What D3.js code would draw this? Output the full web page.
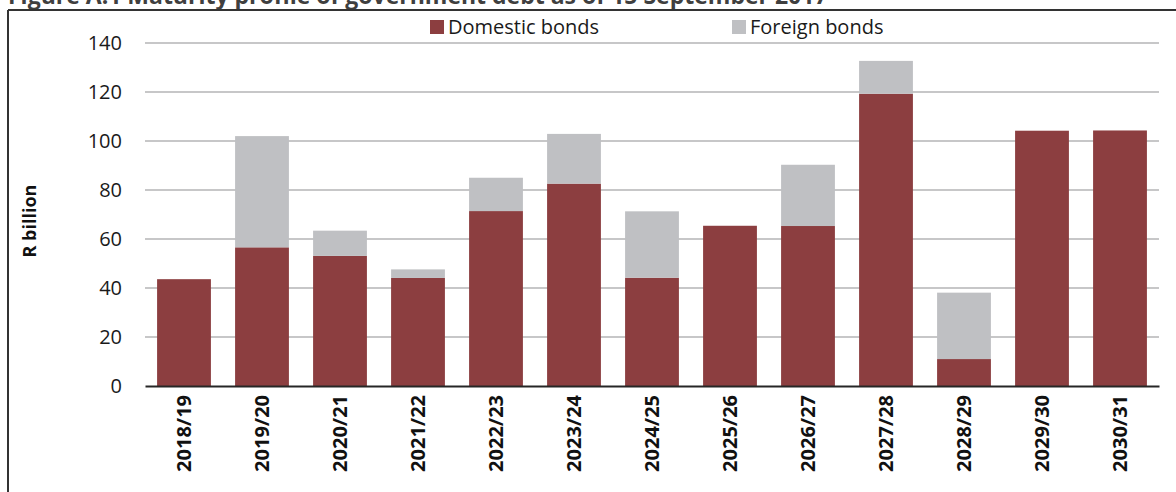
<!DOCTYPE html>
<html>
<head>
<meta charset="utf-8">
<script src="https://cdn.jsdelivr.net/npm/d3@7"></script>
<style>
  body { margin: 0; background: #fff; }
  text { font-family: "Open Sans", sans-serif; }
</style>
</head>
<body>
<svg id="chart"></svg>
<script>
// values, R billion
var years = ["2018/19","2019/20","2020/21","2021/22","2022/23","2023/24","2024/25",
  "2025/26","2026/27","2027/28","2028/29","2029/30","2030/31"]
var domestic = [43.6, 56.6, 53.1, 44.1, 71.4, 82.6, 44.2, 65.4, 65.3, 119.3, 11.0, 104.2, 104.3]
var foreign = [0, 45.4, 10.3, 3.5, 13.6, 20.3, 27.1, 0, 25.0, 13.4, 27.1, 0, 0]
var yTicks = [0, 20, 40, 60, 80, 100, 120, 140]
var seriesNames = ["Domestic bonds", "Foreign bonds"]

var width = 1176, height = 492
var margins = {left: 145, right: 17, top: 43, bottom: 106}
var colors = {"Domestic bonds": "#8c3e40", "Foreign bonds": "#bfc0c3"}

var svg = d3.select("#chart").attr("width", width).attr("height", height)

// title, mostly cut off by the top edge (as in the source)
svg.append("text")
  .attr("x", 8).attr("y", 4)
  .attr("font-size", 23).attr("font-weight", 700)
  .attr("fill", "#3f3f3f")
  .text("Figure A.1 Maturity profile of government debt as of 15 September 2017")

// frame
svg.append("line").attr("x1", 8).attr("x2", width).attr("y1", 10).attr("y2", 10)
  .attr("stroke", "#333").attr("stroke-width", 2)
svg.append("line").attr("x1", 8).attr("x2", 8).attr("y1", 10).attr("y2", height)
  .attr("stroke", "#333").attr("stroke-width", 2)

var xScale = d3.scaleBand()
  .domain(years)
  .range([margins.left, width - margins.right])
  .paddingInner(0.31)
  .paddingOuter(0.155)

var yScale = d3.scaleLinear()
  .domain([0, 140])
  .range([height - margins.bottom, margins.top])

// gridlines
svg.append("g").selectAll("line")
  .data(yTicks.filter(d => d > 0))
  .enter().append("line")
  .attr("x1", margins.left).attr("x2", width - margins.right)
  .attr("y1", d => yScale(d)).attr("y2", d => yScale(d))
  .attr("stroke", "#b4b4b6").attr("stroke-width", 1.6)

// stacked bars
var rows = years.map((y, i) => ({year: y, "Domestic bonds": domestic[i], "Foreign bonds": foreign[i]}))
var stacked = d3.stack().keys(seriesNames)(rows)

svg.append("g").selectAll("g")
  .data(stacked)
  .enter().append("g")
  .attr("fill", d => colors[d.key])
  .selectAll("rect")
  .data(d => d.filter(p => p[1] - p[0] > 0))
  .enter().append("rect")
  .attr("x", d => xScale(d.data.year))
  .attr("width", xScale.bandwidth())
  .attr("y", d => yScale(d[1]))
  .attr("height", d => yScale(d[0]) - yScale(d[1]))

// y axis labels
svg.append("g").selectAll("text")
  .data(yTicks)
  .enter().append("text")
  .attr("x", 122)
  .attr("y", d => yScale(d))
  .attr("dy", "0.35em")
  .attr("text-anchor", "end")
  .attr("font-size", 20)
  .attr("fill", "#1a1a1a")
  .text(d => d)

// x axis
var xAxis = svg.append("g")
  .attr("transform", "translate(0," + yScale(0) + ")")
  .call(d3.axisBottom(xScale).tickSize(0).tickPadding(0))
xAxis.select(".domain").attr("stroke", "#262626").attr("stroke-width", 2.2)
xAxis.selectAll("text")
  .attr("transform", "rotate(-90)")
  .attr("text-anchor", "end")
  .attr("x", -9)
  .attr("y", 0)
  .attr("dy", "0.36em")
  .attr("font-size", 20)
  .attr("font-weight", 700)
  .attr("font-family", "'Open Sans', sans-serif")
  .attr("fill", "#111")

// y axis title
svg.append("text")
  .attr("transform", "translate(36," + 221 + ") rotate(-90)")
  .attr("text-anchor", "middle")
  .attr("font-size", 18)
  .attr("font-weight", 700)
  .attr("fill", "#111")
  .text("R billion")

// legend
var legendX = [430, 732]
var legend = svg.append("g").selectAll("g")
  .data(seriesNames)
  .enter().append("g")
  .attr("transform", (d, i) => "translate(" + legendX[i] + ",20)")
legend.append("rect").attr("width", 14).attr("height", 14).attr("fill", d => colors[d])
legend.append("text")
  .attr("x", 18).attr("y", 7).attr("dy", "0.35em")
  .attr("font-size", 20)
  .attr("fill", "#1a1a1a")
  .text(d => d)
</script>
</body>
</html>
